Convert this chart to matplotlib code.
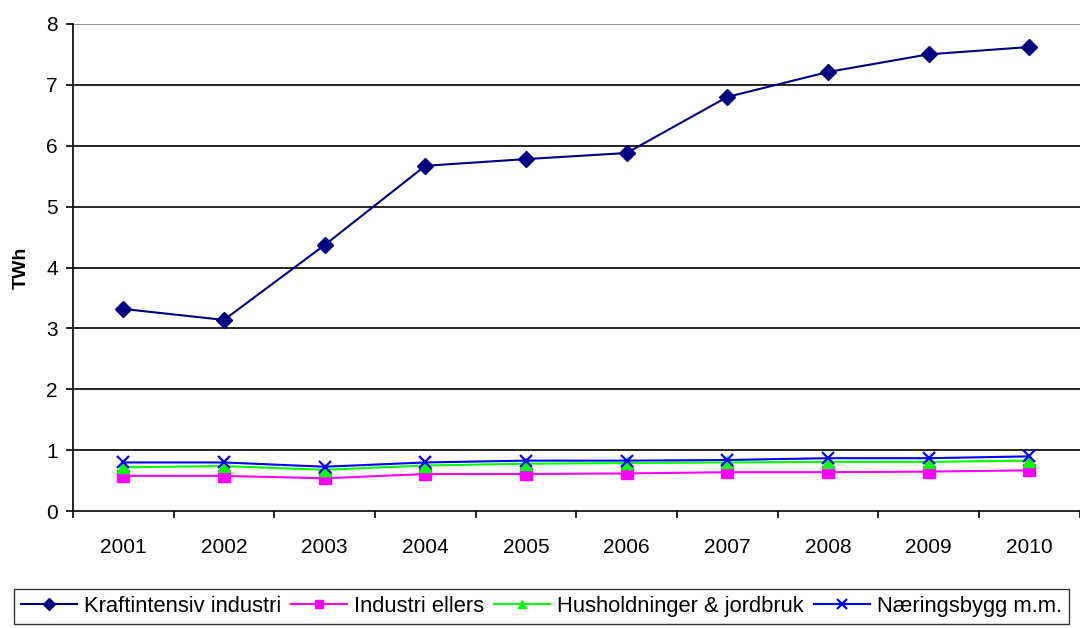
import matplotlib
matplotlib.use("Agg")
import matplotlib.pyplot as plt
import numpy as np

plt.rcParams['font.family'] = ['Liberation Sans', 'DejaVu Sans']

years = ['2001', '2002', '2003', '2004', '2005', '2006', '2007', '2008', '2009', '2010']
kraft = [3.32, 3.14, 4.37, 5.67, 5.78, 5.88, 6.80, 7.21, 7.50, 7.62]
industri = [0.58, 0.58, 0.54, 0.61, 0.61, 0.62, 0.64, 0.64, 0.65, 0.67]
hushold = [0.72, 0.74, 0.68, 0.75, 0.78, 0.79, 0.80, 0.81, 0.81, 0.83]
naering = [0.80, 0.80, 0.73, 0.80, 0.83, 0.83, 0.84, 0.87, 0.87, 0.90]
y_ticks = [0, 1, 2, 3, 4, 5, 6, 7, 8]

fig = plt.figure(figsize=(10.8, 6.28), dpi=100)
ax = fig.add_axes([0.0676, 0.186, 0.932, 0.776])

x = np.arange(len(years))
ax.plot(x, kraft, color='#000080', marker='D', markersize=8, lw=1.5, label='Kraftintensiv industri', zorder=5)
ax.plot(x, industri, color='#FF00FF', marker='s', markersize=8, lw=1.5, label='Industri ellers', zorder=3)
ax.plot(x, hushold, color='#00FF00', marker='^', markersize=8, lw=1.5, label='Husholdninger & jordbruk', zorder=4)
ax.plot(x, naering, color='#0000FF', marker='x', markersize=9, mew=1.6, lw=1.5, label='Næringsbygg m.m.', zorder=5)

ax.set_xlim(-0.5, len(years) - 0.5)
ax.set_ylim(0, 8)
ax.set_yticks(y_ticks)
ax.set_yticklabels([str(v) for v in y_ticks], fontsize=15)
ax.set_xticks(np.arange(-0.5, len(years), 1.0))
ax.set_xticklabels([])
ax.set_xticks(x, minor=True)
ax.set_xticklabels(years, minor=True, fontsize=15)
ax.tick_params(axis='x', which='minor', length=0, pad=19)
ax.tick_params(axis='x', which='major', length=5, width=1.2, direction='out')
ax.tick_params(axis='y', length=5, width=1.2, direction='out', pad=6)

for v in y_ticks[1:]:
    ax.axhline(v, color='#808080' if v == 8 else 'black', lw=1.2, zorder=1)

for s in ['top', 'right']:
    ax.spines[s].set_visible(False)
ax.spines['left'].set_linewidth(1.2)
ax.spines['bottom'].set_linewidth(1.2)

ax.set_ylabel('TWh', fontsize=14, fontweight='bold', labelpad=12)

leg = fig.legend(loc='upper center', bbox_to_anchor=(0.5014, 0.0621),
                 ncol=4, fontsize=15.8, frameon=True, fancybox=False, edgecolor='black',
                 handlelength=2.55, columnspacing=0.46, handletextpad=0.32, borderpad=0.32,
                 borderaxespad=0.0, markerscale=0.8)
leg.get_frame().set_linewidth(1.0)

fig.savefig('out.png', dpi=100)
